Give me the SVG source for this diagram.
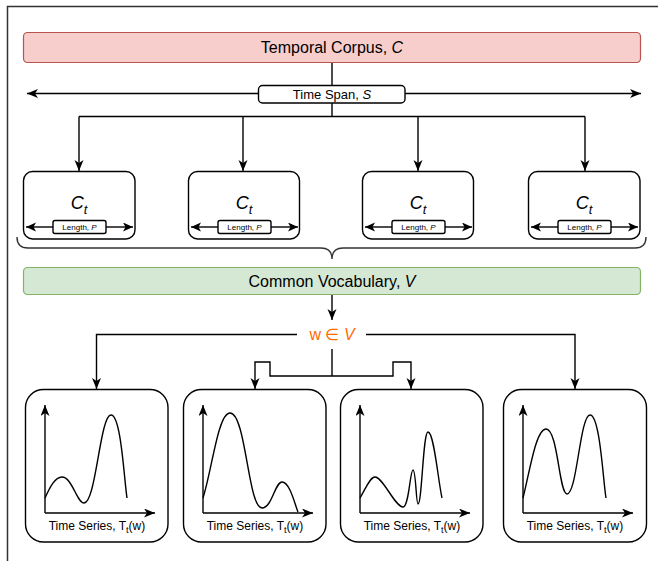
<svg xmlns="http://www.w3.org/2000/svg" width="658" height="561" viewBox="0 0 658 561">
<style>
text{font-family:"Liberation Sans",Arial,sans-serif;fill:#000}
.ln{fill:none;stroke:#000;stroke-width:1.4}
.arr{marker-end:url(#ah)}
.box{fill:#fff;stroke:#000;stroke-width:1.4}
.curve{fill:none;stroke:#000;stroke-width:1.4}
.ts{font-size:12px}
.len{font-size:8px}
.ct{font-size:18px;font-style:italic}
</style>
<defs>
<marker id="ah" markerUnits="userSpaceOnUse" markerWidth="12" markerHeight="10" refX="11" refY="4.5" orient="auto">
<path d="M0,0 L11,4.5 L0,9 L3,4.5 z" fill="#000"/>
</marker>
<marker id="ahs" markerUnits="userSpaceOnUse" markerWidth="12" markerHeight="10" refX="10" refY="4.5" orient="auto">
<path d="M0,0 L10,4.5 L0,9 L2.5,4.5 z" fill="#000"/>
</marker>
</defs>
<rect width="658" height="561" fill="#fff"/>
<path d="M7.5,561 L7.5,6.5 L658,6.5" fill="none" stroke="#333" stroke-width="1.5"/>

<g id="connectors">
<path class="ln" d="M332,62 L332,116.5"/>
<path class="ln" d="M79,116.5 L585,116.5"/>
<path class="ln arr" d="M79,116.5 L79,171"/>
<path class="ln arr" d="M243,116.5 L243,171"/>
<path class="ln arr" d="M418,116.5 L418,171"/>
<path class="ln arr" d="M585,116.5 L585,171"/>
<path class="ln arr" d="M258,93.5 L27,93.5"/>
<path class="ln arr" d="M405,93.5 L641,93.5"/>
<path d="M17,237 Q17,248 28,248 L321,248 Q332,248 332,259 Q332,248 343,248 L635,248 Q646,248 646,237" fill="none" stroke="#333" stroke-width="1.4"/>
<path class="ln arr" d="M332,294 L332,320"/>
<path class="ln arr" d="M297,334.5 L96.5,334.5 L96.5,389"/>
<path class="ln arr" d="M366,334.5 L575,334.5 L575,389"/>
<path class="ln" d="M332,349 L332,376"/>
<path class="ln arr" d="M332,376 L270,376 L270,362 L255,362 L255,389"/>
<path class="ln arr" d="M332,376 L393,376 L393,362 L411,362 L411,389"/>
</g>

<g id="corpus">
<rect x="23.5" y="32.5" width="617" height="30" rx="4" fill="#f8cecc" stroke="#b85450" stroke-width="1.2"/>
<text x="332" y="53" font-size="16" text-anchor="middle">Temporal Corpus, <tspan font-style="italic">C</tspan></text>
</g>

<g id="timespan">
<rect x="258.5" y="85.5" width="146.5" height="17.5" rx="4" class="box" stroke-width="1.2"/>
<text x="332" y="98.5" font-size="13" text-anchor="middle">Time Span, <tspan font-style="italic">S</tspan></text>
</g>

<g id="ct1">
<rect x="23.5" y="171.5" width="111.5" height="67.5" rx="9" class="box"/>
<text x="79" y="209" class="ct" text-anchor="middle">C<tspan font-size="13" dy="5">t</tspan></text>
<path class="ln" d="M53,227 L26,227" style="marker-end:url(#ahs)"/>
<path class="ln" d="M106,227 L133,227" style="marker-end:url(#ahs)"/>
<rect x="53" y="220.5" width="53" height="13" rx="2" class="box" stroke-width="1.1"/>
<text x="79.5" y="230" class="len" text-anchor="middle">Length, <tspan font-style="italic">P</tspan></text>
</g>
<g id="ct2">
<rect x="188.5" y="171.5" width="111" height="67.5" rx="9" class="box"/>
<text x="244" y="209" class="ct" text-anchor="middle">C<tspan font-size="13" dy="5">t</tspan></text>
<path class="ln" d="M218,227 L191,227" style="marker-end:url(#ahs)"/>
<path class="ln" d="M271,227 L298,227" style="marker-end:url(#ahs)"/>
<rect x="218" y="220.5" width="53" height="13" rx="2" class="box" stroke-width="1.1"/>
<text x="244.5" y="230" class="len" text-anchor="middle">Length, <tspan font-style="italic">P</tspan></text>
</g>
<g id="ct3">
<rect x="362.5" y="171.5" width="111" height="67.5" rx="9" class="box"/>
<text x="418" y="209" class="ct" text-anchor="middle">C<tspan font-size="13" dy="5">t</tspan></text>
<path class="ln" d="M392,227 L365,227" style="marker-end:url(#ahs)"/>
<path class="ln" d="M445,227 L472,227" style="marker-end:url(#ahs)"/>
<rect x="392" y="220.5" width="53" height="13" rx="2" class="box" stroke-width="1.1"/>
<text x="418.5" y="230" class="len" text-anchor="middle">Length, <tspan font-style="italic">P</tspan></text>
</g>
<g id="ct4">
<rect x="528.5" y="171.5" width="111.5" height="67.5" rx="9" class="box"/>
<text x="584" y="209" class="ct" text-anchor="middle">C<tspan font-size="13" dy="5">t</tspan></text>
<path class="ln" d="M558,227 L531,227" style="marker-end:url(#ahs)"/>
<path class="ln" d="M611,227 L638,227" style="marker-end:url(#ahs)"/>
<rect x="558" y="220.5" width="53" height="13" rx="2" class="box" stroke-width="1.1"/>
<text x="584.5" y="230" class="len" text-anchor="middle">Length, <tspan font-style="italic">P</tspan></text>
</g>

<g id="vocab">
<rect x="23.5" y="267.5" width="617" height="27" rx="4" fill="#d5e8d4" stroke="#82b366" stroke-width="1.2"/>
<text x="332" y="286.5" font-size="16" text-anchor="middle">Common Vocabulary, <tspan font-style="italic">V</tspan></text>
</g>

<g id="word">
<text x="332" y="340" font-size="16" text-anchor="middle" style="fill:#ff6a00">w ∈ <tspan font-style="italic" style="fill:#ff6a00">V</tspan></text>
</g>

<g id="ts1">
<rect x="25.5" y="389.5" width="142.5" height="152.5" rx="18" class="box"/>
<path class="ln arr" d="M45,513 L45,405"/>
<path class="ln arr" d="M45,513 L155,513"/>
<path class="curve" d="M45,498 C50,487 55,477 62,477 C72,477 77,503 84,503 C96,503 100,415 111,415 C121,415 124,478 127,498"/>
<text x="97" y="530" class="ts" text-anchor="middle">Time Series, T<tspan font-size="9" dy="3">t</tspan><tspan dy="-3">(w)</tspan></text>
</g>
<g id="ts2">
<rect x="183.5" y="389.5" width="142.5" height="152.5" rx="18" class="box"/>
<path class="ln arr" d="M203,513 L203,405"/>
<path class="ln arr" d="M203,513 L313,513"/>
<path class="curve" d="M203,498 C212,470 218,413 230,413 C246,413 248,508 262,508 C272,508 275,482 282,482 C290,482 295,505 298,512"/>
<text x="255" y="530" class="ts" text-anchor="middle">Time Series, T<tspan font-size="9" dy="3">t</tspan><tspan dy="-3">(w)</tspan></text>
</g>
<g id="ts3">
<rect x="340.5" y="389.5" width="142.5" height="152.5" rx="18" class="box"/>
<path class="ln arr" d="M360,513 L360,405"/>
<path class="ln arr" d="M360,513 L470,513"/>
<path class="curve" d="M360,498 C366,488 370,477 375,477 C383,477 395,507 403,507 C409,507 410,470 413,470 C416,470 416,504 418,504 C422,504 423,432 428,432 C434,432 438,480 442,498"/>
<text x="412" y="530" class="ts" text-anchor="middle">Time Series, T<tspan font-size="9" dy="3">t</tspan><tspan dy="-3">(w)</tspan></text>
</g>
<g id="ts4">
<rect x="503.5" y="389.5" width="143" height="152.5" rx="18" class="box"/>
<path class="ln arr" d="M523,513 L523,405"/>
<path class="ln arr" d="M523,513 L633,513"/>
<path class="curve" d="M523,498 C530,470 536,429 546,429 C558,429 559,494 567,494 C577,494 580,415 590,415 C600,415 603,480 606,498"/>
<text x="575" y="530" class="ts" text-anchor="middle">Time Series, T<tspan font-size="9" dy="3">t</tspan><tspan dy="-3">(w)</tspan></text>
</g>
</svg>
